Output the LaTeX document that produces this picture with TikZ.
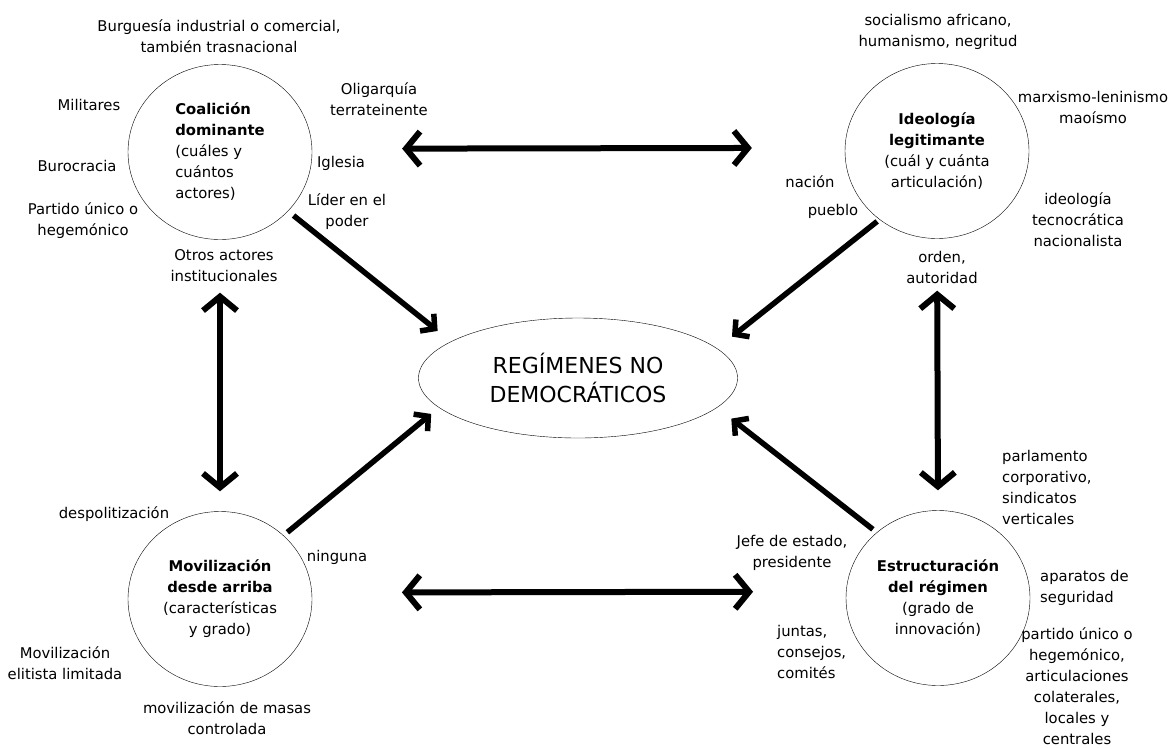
\documentclass[tikz,border=0pt]{standalone}
\usepackage{fontspec}
\setmainfont{DejaVu Sans}
\usepackage{tikz}
\usetikzlibrary{shapes.geometric,arrows.meta}
\usetikzlibrary{scopes}

\begin{document}
\begin{tikzpicture}
  [
  x=1pt, y=-1pt,
  every node/.style={font=\fontsize{14.8}{21}\selectfont, inner sep=0pt},
  factor/.style={ellipse, draw=black, thin, minimum width=184pt, minimum height=175pt, align=center},
  lab/.style={align=center},
  twoway/.style={line width=6pt, >={Straight Barb[length=14pt,width=34pt]}, <->},
  oneway/.style={line width=5.5pt, >={Straight Barb[length=10pt,width=22pt]}, ->},
  ]
  \useasboundingbox (0,0) rectangle (1172,748);

  % the five main nodes
  \node[ellipse, draw=black, thin, minimum width=319pt, minimum height=120pt, align=center,
        font=\fontsize{22}{29}\selectfont] (reg) at (578,378) {REGÍMENES NO\\DEMOCRÁTICOS};
  \node[factor, align=left] (coal) at (220,152)
    {\textbf{Coalición}\\\textbf{dominante}\\(cuáles y\\cuántos\\actores)};
  \node[factor] (ideo) at (937,151)
    {\textbf{Ideología}\\\textbf{legitimante}\\(cuál y cuánta\\articulación)};
  \node[factor] (movil) at (220,599)
    {\textbf{Movilización}\\\textbf{desde arriba}\\(características\\y grado)};
  \node[factor] (estr) at (938,598)
    {\textbf{Estructuración}\\\textbf{del régimen}\\(grado de\\innovación)};

  % coalicion
  \node[lab] (burguesia) at (219,36) {Burguesía industrial o comercial,\\también trasnacional};
  \node[lab] (militares) at (89,105) {Militares};
  \node[lab] (burocracia) at (77,166) {Burocracia};
  \node[lab] (partido) at (83,221) {Partido único o\\hegemónico};
  \node[lab] (otros) at (224,266) {Otros actores\\institucionales};
  \node[lab] (oligarquia) at (379,99) {Oligarquía\\terrateinente};
  \node[lab] (iglesia) at (341,163) {Iglesia};
  \node[lab] (lider) at (347,212) {Líder en el\\poder};

  % ideologia
  \node[lab] (socialismo) at (938,32) {socialismo africano,\\humanismo, negritud};
  \node[lab] (marxismo) at (1093,107) {marxismo-leninismo\\maoísmo};
  \node[lab] (nacion) at (810,182) {nación};
  \node[lab] (pueblo) at (833,211) {pueblo};
  \node[lab] (tecno) at (1078,220) {ideología\\tecnocrática\\nacionalista};
  \node[lab] (orden) at (942,267) {orden,\\autoridad};

  % movilizacion
  \node[lab] (despol) at (114,514) {despolitización};
  \node[lab] (ninguna) at (337,557) {ninguna};
  \node[lab] (elitista) at (65,663) {Movilización\\elitista limitada};
  \node[lab] (masas) at (227,718) {movilización de masas\\controlada};

  % estructuracion
  \node[align=left, anchor=west] (parlamento) at (1002,487) {parlamento\\corporativo,\\sindicatos\\verticales};
  \node[lab] (jefe) at (792,553) {Jefe de estado,\\presidente};
  \node[align=left, anchor=west] (juntas) at (777,652) {juntas,\\consejos,\\comités};
  \node[align=left, anchor=west] (aparatos) at (1040,588) {aparatos de\\seguridad};
  \node[lab] (partido2) at (1077,686) {partido único o\\hegemónico,\\articulaciones\\colaterales,\\locales y\\centrales};

  {[twoway]
    \draw[shorten <=90pt, shorten >=93pt] (coal.2) -- (ideo.178);
    \draw[shorten <=90pt, shorten >=93pt] (movil.4) -- (estr.176);
    \draw[shorten <=53pt, shorten >=20pt] (coal.south) -- (movil.north);
    \draw[shorten <=52pt, shorten >=20pt] (ideo.south) -- (estr.north);
  }
  {[oneway]
    \draw[shorten <=7pt, shorten >=17pt] (coal.-41) -- (reg.164);
    \draw[shorten <=3pt, shorten >=19pt] (ideo.230) -- (reg.12.7);
    \draw[shorten <=5pt, shorten >=10pt] (movil.45) -- (reg.192);
    \draw[shorten <=5pt, shorten >=18pt] (estr.133.7) -- (reg.348.3);
  }
\end{tikzpicture}
\end{document}
